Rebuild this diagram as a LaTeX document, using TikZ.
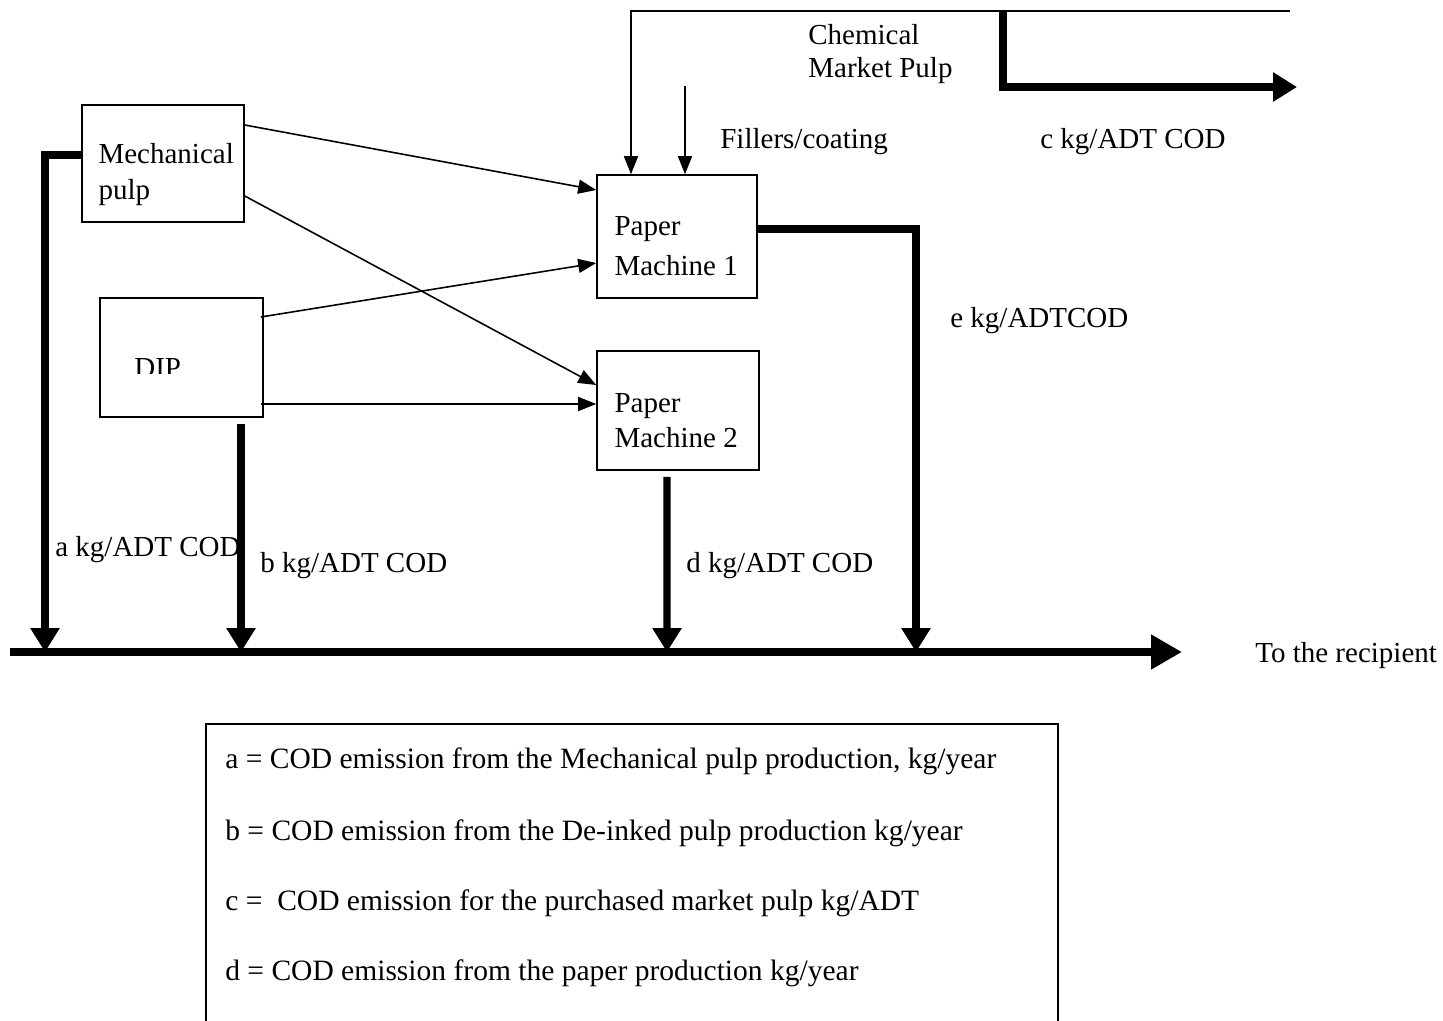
\documentclass[tikz,border=0pt]{standalone}
\usepackage{fontspec}
\setmainfont{Liberation Serif}
\usetikzlibrary{arrows.meta}

\begin{document}
\begin{tikzpicture}[x=2cm,y=2cm,
  every node/.style={font=\fontsize{16.5}{19.8}\selectfont,inner sep=0pt},
  unit/.style={draw,line width=0.9pt},
  unittxt/.style={anchor=west,align=left},
  feed/.style={line width=0.9pt,-{Triangle[length=0.36cm,width=0.28cm]}},
  flow/.style={line width=4pt,-{Triangle[length=0.48cm,width=0.56cm]}},
  sewer/.style={line width=5pt,-{Triangle[length=0.62cm,width=0.66cm]}},
  lbl/.style={anchor=west,yshift=-0.08cm},
  key/.style={lbl,font=\fontsize{16.8}{20}\selectfont}]
\useasboundingbox (0,0) rectangle (14.43,-10.20);

% process units
\node[unit,minimum width=3.24cm,minimum height=2.34cm] (mp) at (1.63,-1.635) {};
\node[unit,minimum width=3.26cm,minimum height=2.38cm] (dip) at (1.815,-3.575) {};
\node[unit,minimum width=3.2cm,minimum height=2.46cm] (pm1) at (6.77,-2.365) {};
\node[unit,minimum width=3.24cm,minimum height=2.38cm] (pm2) at (6.78,-4.105) {};
\node[unittxt] (mptxt) at ([xshift=0.34cm,yshift=-0.22cm]mp.west) {Mechanical\\[1pt]pulp};
\node[unittxt] (pm1txt) at ([xshift=0.36cm,yshift=-0.2cm]pm1.west) {Paper\\[3pt]Machine 1};
\node[unittxt] (pm2txt) at ([xshift=0.36cm,yshift=-0.21cm]pm2.west) {Paper\\Machine 2};
\begin{scope}
\clip (1.00,-2.98) rectangle (2.63,-3.73);
\node[lbl] (diptxt) at (1.34,-3.64) {DIP};
\end{scope}

% purchased pulp and fillers
\coordinate (cmp) at (12.90,-0.11);
\coordinate (cj) at (10.03,-0.11);
\coordinate (cout) at (12.97,-0.87);
\coordinate (fill) at (6.85,-0.86);
\draw[feed] (cmp) -| ([xshift=-0.92cm]pm1.north);
\draw[feed] (fill) -- ([xshift=0.16cm]pm1.north);
\draw[flow] (cj) |- (cout);
\node[lbl,align=left] (chem) at (8.08,-0.505) {Chemical\\[-1pt]Market Pulp};
\node[lbl] (filltxt) at (7.20,-1.38) {Fillers/coating};
\node[lbl] (ctxt) at (10.40,-1.38) {c kg/ADT COD};

% pulp to paper machines
\draw[feed] ([yshift=0.77cm]mp.east) -- ([yshift=0.93cm]pm1.west);
\draw[feed] ([yshift=-0.65cm]mp.east) -- ([yshift=0.51cm]pm2.west);
\draw[feed] ([xshift=-0.06cm,yshift=0.81cm]dip.east) -- ([yshift=-0.53cm]pm1.west);
\draw[feed] ([xshift=-0.06cm,yshift=-0.93cm]dip.east) -- ([yshift=0.13cm]pm2.west);

% effluents
\coordinate (src) at (0.10,-6.52);
\coordinate (rcp) at (11.82,-6.52);
\coordinate (a) at (0.45,-6.52);
\coordinate (b) at (2.41,-6.52);
\coordinate (d) at (6.67,-6.52);
\coordinate (e) at (9.16,-6.52);
\draw[sewer] (src) -- (rcp);
\draw[flow] ([yshift=0.17cm]mp.west) -| (a);
\draw[flow] ([xshift=1.19cm,yshift=-0.12cm]dip.south) -- (b);
\draw[flow] ([xshift=-0.22cm,yshift=-0.12cm]pm2.south) -- (d);
\draw[flow] ([yshift=0.15cm]pm1.east) -| (e);
\node[lbl] (atxt) at (0.55,-5.46) {a kg/ADT COD};
\node[lbl] (btxt) at (2.60,-5.62) {b kg/ADT COD};
\node[lbl] (dtxt) at (6.86,-5.62) {d kg/ADT COD};
\node[lbl] (etxt) at (9.50,-3.17) {e kg/ADTCOD};
\node[lbl] (rtxt) at (12.55,-6.52) {To the recipient};

% legend
\draw[line width=0.9pt] (2.06,-10.5) |- (10.58,-7.24) -- (10.58,-10.5);
\node[key] (la) at (2.25,-7.57) {a = COD emission from the Mechanical pulp production, kg/year};
\node[key] (lb) at (2.25,-8.29) {b = COD emission from the De-inked pulp production kg/year};
\node[key] (lc) at (2.25,-8.99) {c =\ \ COD emission for the purchased market pulp kg/ADT};
\node[key] (ld) at (2.25,-9.69) {d = COD emission from the paper production kg/year};
\end{tikzpicture}
\end{document}
